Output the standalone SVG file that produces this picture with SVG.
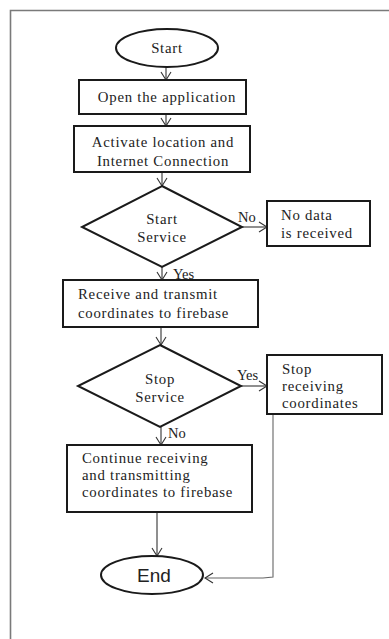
<svg xmlns="http://www.w3.org/2000/svg" width="389" height="639" viewBox="0 0 389 639">
<style>
.frame{fill:none;stroke:#7a7a7a;stroke-width:1.6}
.box{fill:#fff;stroke:#1a1a1a;stroke-width:2}
.conn{fill:none;stroke:#333;stroke-width:1.1}
.t{font-family:"Liberation Serif","Times New Roman",serif;font-size:14.8px;letter-spacing:0.75px;fill:#222}
.tc{text-anchor:middle}
.lbl{font-family:"Liberation Serif","Times New Roman",serif;font-size:14.5px;fill:#222}
.end{font-family:"Liberation Sans",Arial,sans-serif;font-size:19px;fill:#222;text-anchor:middle}
</style>
<defs>
<marker id="arr" markerWidth="12" markerHeight="12" refX="10" refY="6" orient="auto" markerUnits="userSpaceOnUse">
<path d="M2,1 L10,6 L2,11" fill="none" stroke="#333" stroke-width="1.1"/>
</marker>
</defs>
<rect width="389" height="639" fill="#fff"/>
<path class="frame" d="M10.5,640 L10.5,10.5 L390,10.5"/>
<g id="connectors">
<line class="conn" x1="166" y1="67" x2="166" y2="80" marker-end="url(#arr)"/>
<line class="conn" x1="166" y1="114" x2="166" y2="126" marker-end="url(#arr)"/>
<line class="conn" x1="162" y1="172" x2="162" y2="186" marker-end="url(#arr)"/>
<line class="conn" x1="242" y1="227" x2="267" y2="227" marker-end="url(#arr)"/>
<line class="conn" x1="162" y1="267" x2="162" y2="280" marker-end="url(#arr)"/>
<line class="conn" x1="161" y1="327" x2="161" y2="345" marker-end="url(#arr)"/>
<line class="conn" x1="241" y1="386" x2="267" y2="386" marker-end="url(#arr)"/>
<line class="conn" x1="161" y1="427" x2="161" y2="445" marker-end="url(#arr)"/>
<line class="conn" x1="157" y1="512" x2="157" y2="556" marker-end="url(#arr)"/>
<polyline class="conn" style="stroke:#666" points="273,414 273,577 263,578 205,578" marker-end="url(#arr)"/>
<text class="lbl" x="238" y="222">No</text>
<text class="lbl" x="173" y="279">Yes</text>
<text class="lbl" x="237" y="380">Yes</text>
<text class="lbl" x="168" y="438">No</text>
</g>
<g id="start">
<ellipse class="box" cx="167" cy="48" rx="51" ry="19"/>
<text class="t tc" x="167" y="53">Start</text>
</g>
<g id="open">
<rect class="box" x="79" y="80" width="167" height="34"/>
<text class="t tc" x="167" y="102">Open the application</text>
</g>
<g id="activate">
<rect class="box" x="74" y="126" width="176" height="46"/>
<text class="t tc" x="163" y="147">Activate location and</text>
<text class="t tc" x="163" y="166">Internet Connection</text>
</g>
<g id="startService">
<polygon class="box" points="162,186 242,227 162,267 82,227"/>
<text class="t tc" x="162" y="224">Start</text>
<text class="t tc" x="162" y="242">Service</text>
</g>
<g id="noData">
<rect class="box" x="267" y="201" width="103" height="45"/>
<text class="t" x="281" y="220">No data</text>
<text class="t" x="281" y="238">is received</text>
</g>
<g id="receive">
<rect class="box" x="63" y="280" width="195" height="47"/>
<text class="t" x="78" y="299">Receive and transmit</text>
<text class="t" x="78" y="318">coordinates to firebase</text>
</g>
<g id="stopService">
<polygon class="box" points="160,345 241,386 160,427 78,386"/>
<text class="t tc" x="160" y="384">Stop</text>
<text class="t tc" x="160" y="402">Service</text>
</g>
<g id="stopReceiving">
<rect class="box" x="267" y="355" width="115" height="59"/>
<text class="t" x="282" y="374">Stop</text>
<text class="t" x="282" y="391">receiving</text>
<text class="t" x="282" y="408">coordinates</text>
</g>
<g id="continue">
<rect class="box" x="67" y="445" width="185" height="67"/>
<text class="t" x="82" y="463">Continue receiving</text>
<text class="t" x="82" y="480">and transmitting</text>
<text class="t" x="82" y="497">coordinates to firebase</text>
</g>
<g id="end">
<ellipse class="box" cx="152" cy="575" rx="51" ry="19"/>
<text class="end" x="154" y="582">End</text>
</g>
</svg>
